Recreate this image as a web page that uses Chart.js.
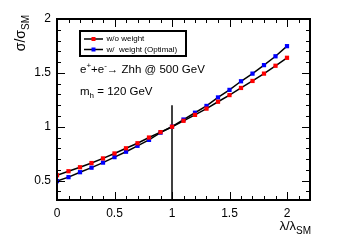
<!DOCTYPE html>
<html>
<head>
<meta charset="utf-8">
<script src="https://cdn.jsdelivr.net/npm/chart.js@4"></script>
<style>
html, body { margin: 0; padding: 0; background: #fff; }
canvas { display: block; }
</style>
</head>
<body>
<canvas id="chart" width="338" height="245"></canvas>
<script>
// data
const lambdaVals = [0, 0.1, 0.2, 0.3, 0.4, 0.5, 0.6, 0.7, 0.8, 0.9, 1.0,
                    1.1, 1.2, 1.3, 1.4, 1.5, 1.6, 1.7, 1.8, 1.9, 2.0];
const sigmaNoWeight = [0.550, 0.587, 0.624, 0.663, 0.706, 0.752, 0.800, 0.847, 0.900, 0.950, 1.000,
                       1.055, 1.110, 1.168, 1.232, 1.294, 1.360, 1.425, 1.493, 1.566, 1.640];
const sigmaWeight = [0.495, 0.532, 0.578, 0.620, 0.667, 0.718, 0.768, 0.823, 0.878, 0.945, 1.000,
                     1.067, 1.130, 1.193, 1.272, 1.342, 1.422, 1.493, 1.572, 1.654, 1.748];
const seriesLabels = ['w/o weight', 'w/  weight (Optimal)'];
const seriesColors = ['#ff0000', '#0000ff'];
const smLambda = [1, 1];
const smLineY = [0.32, 1.2];
const xTickVals = [0, 0.5, 1, 1.5, 2];
const yTickVals = [0.5, 1, 1.5, 2];

const FONT = '"Liberation Sans", Arial, sans-serif';

const toPts = (xs, ys) => xs.map((v, i) => ({ x: v, y: ys[i] }));

// draws pieces of text with sub/superscripts, returns end x
function drawRich(ctx, parts, x, y) {
  for (const p of parts) {
    ctx.font = p.size + 'px ' + FONT;
    ctx.fillText(p.t, x, y + (p.dy || 0));
    x += ctx.measureText(p.t).width;
  }
  return x;
}
function richWidth(ctx, parts) {
  let w = 0;
  for (const p of parts) {
    ctx.font = p.size + 'px ' + FONT;
    w += ctx.measureText(p.t).width;
  }
  return w;
}

const rootFrame = {
  id: 'rootFrame',
  afterDatasetsDraw(chart) {
    const { ctx, chartArea: a, scales: { x, y } } = chart;
    ctx.save();
    ctx.strokeStyle = '#000';
    ctx.fillStyle = '#000';

    // ticks inside the frame, all four sides
    ctx.lineWidth = 1;
    ctx.beginPath();
    for (let i = 0; i <= 22; i++) {
      const px = Math.round(x.getPixelForValue(i / 10)) + 0.5;
      const len = i % 5 === 0 ? 8 : 4;
      ctx.moveTo(px, a.bottom); ctx.lineTo(px, a.bottom - len);
      ctx.moveTo(px, a.top); ctx.lineTo(px, a.top + len);
    }
    for (let i = 4; i <= 20; i++) {
      const py = Math.round(y.getPixelForValue(i / 10)) + 0.5;
      const len = i % 5 === 0 ? 8 : 4;
      ctx.moveTo(a.left, py); ctx.lineTo(a.left + len, py);
      ctx.moveTo(a.right, py); ctx.lineTo(a.right - len, py);
    }
    ctx.stroke();

    ctx.lineWidth = 2;
    ctx.strokeRect(a.left, a.top, a.width, a.height);

    // legend box
    const lx = 80, ly = 31, lw = 106, lh = 25;
    ctx.fillStyle = '#fff';
    ctx.fillRect(lx, ly, lw, lh);
    ctx.lineWidth = 2;
    ctx.strokeRect(lx, ly, lw, lh);
    ctx.textBaseline = 'middle';
    seriesLabels.forEach((lab, i) => {
      const ey = ly + 8 + i * 10.5;
      ctx.lineWidth = 1.5;
      ctx.strokeStyle = '#000';
      ctx.beginPath();
      ctx.moveTo(84, ey); ctx.lineTo(103, ey);
      ctx.stroke();
      ctx.fillStyle = seriesColors[i];
      ctx.fillRect(91.5, ey - 2, 4, 4);
      ctx.fillStyle = '#000';
      ctx.font = '8px ' + FONT;
      ctx.fillText(lab, 106.5, ey);
    });

    // annotations
    ctx.textBaseline = 'alphabetic';
    drawRich(ctx, [
      { t: 'e', size: 11.5 }, { t: '+', size: 8, dy: -5 }, { t: '+e', size: 11.5 },
      { t: '-', size: 8, dy: -5 }, { t: '\u2192 Zhh @ 500 GeV', size: 11.5 }
    ], 80, 73);
    drawRich(ctx, [
      { t: 'm', size: 11.5 }, { t: 'h', size: 8, dy: 3 }, { t: ' = 120 GeV', size: 11.5 }
    ], 80, 95);

    // axis titles
    const xt = [{ t: '\u03bb/\u03bb', size: 13 }, { t: 'SM', size: 10, dy: 4 }];
    drawRich(ctx, xt, a.right + 1 - richWidth(ctx, xt), 230);

    const yt = [{ t: '\u03c3/\u03c3', size: 14 }, { t: 'SM', size: 10, dy: 4 }];
    ctx.translate(25, 15);
    ctx.rotate(-Math.PI / 2);
    drawRich(ctx, yt, -richWidth(ctx, yt), 0);
    ctx.restore();
  }
};

new Chart(document.getElementById('chart'), {
  type: 'line',
  data: {
    datasets: [
      {
        label: seriesLabels[0],
        data: toPts(lambdaVals, sigmaNoWeight),
        borderColor: '#000',
        borderWidth: 1.5,
        pointStyle: 'rect',
        pointRadius: 3,
        pointBackgroundColor: seriesColors[0],
        pointBorderColor: seriesColors[0],
        pointBorderWidth: 0,
        tension: 0
      },
      {
        label: seriesLabels[1],
        data: toPts(lambdaVals, sigmaWeight),
        borderColor: '#000',
        borderWidth: 1.5,
        pointStyle: 'rect',
        pointRadius: 3,
        pointBackgroundColor: seriesColors[1],
        pointBorderColor: seriesColors[1],
        pointBorderWidth: 0,
        tension: 0
      },
      {
        label: 'SM',
        data: toPts(smLambda, smLineY),
        borderColor: '#000',
        borderWidth: 1.5,
        pointRadius: 0
      }
    ]
  },
  options: {
    responsive: false,
    animation: false,
    events: [],
    layout: { padding: { left: 0, top: 19, right: 28, bottom: 0 } },
    plugins: { legend: { display: false }, tooltip: { enabled: false } },
    scales: {
      x: {
        type: 'linear',
        min: 0,
        max: 2.2,
        afterBuildTicks: s => { s.ticks = xTickVals.map(v => ({ value: v })); },
        afterFit: s => { s.height = 45; },
        grid: { display: false, drawTicks: false },
        border: { display: false },
        ticks: {
          autoSkip: false,
          maxRotation: 0,
          padding: 6,
          color: '#000',
          font: { family: FONT, size: 12 },
          callback: v => String(v)
        }
      },
      y: {
        type: 'linear',
        min: 0.32,
        max: 2,
        afterBuildTicks: s => { s.ticks = yTickVals.map(v => ({ value: v })); },
        afterFit: s => { s.width = 57; },
        grid: { display: false, drawTicks: false },
        border: { display: false },
        ticks: {
          padding: 6,
          color: '#000',
          font: { family: FONT, size: 12 },
          callback: v => String(v)
        }
      }
    }
  },
  plugins: [rootFrame]
});
</script>
</body>
</html>
